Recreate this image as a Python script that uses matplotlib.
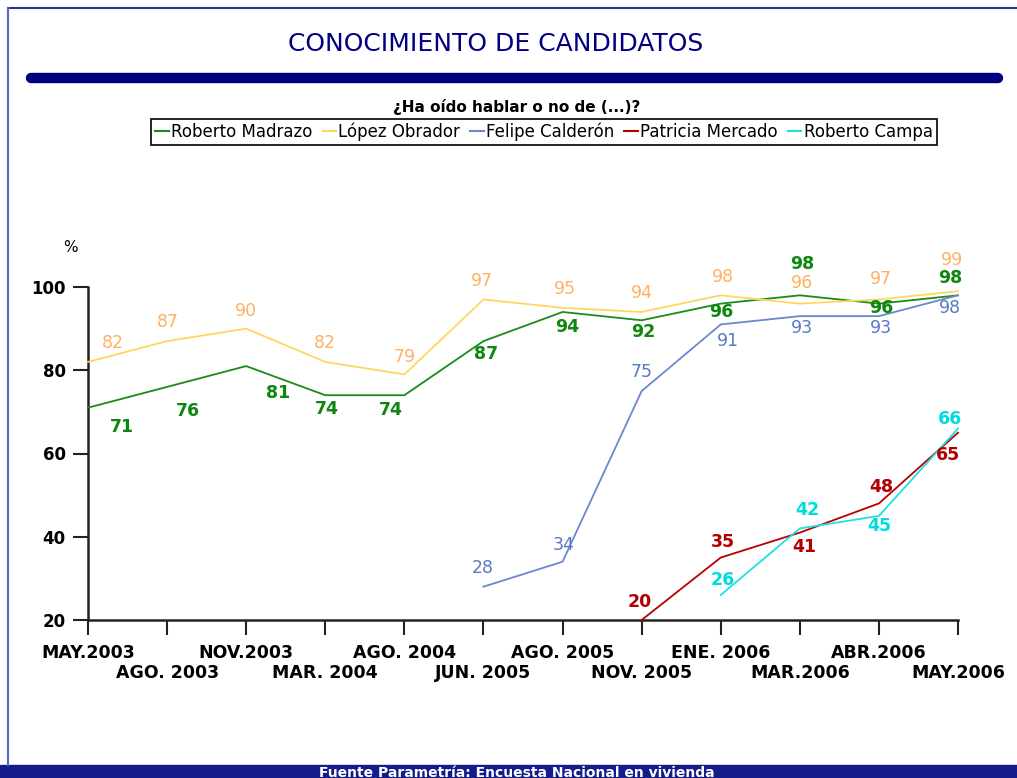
import matplotlib
matplotlib.use("Agg")
import matplotlib.pyplot as plt
from matplotlib.lines import Line2D
from matplotlib.patches import Rectangle

# survey dates
fechas = ["MAY.2003", "AGO. 2003", "NOV.2003", "MAR. 2004", "AGO. 2004", "JUN. 2005",
          "AGO. 2005", "NOV. 2005", "ENE. 2006", "MAR.2006", "ABR.2006", "MAY.2006"]

# % que ha oido hablar de cada candidato (None = no medido)
madrazo = [71, 76, 81, 74, 74, 87, 94, 92, 96, 98, 96, 98]
lopez_obrador = [82, 87, 90, 82, 79, 97, 95, 94, 98, 96, 97, 99]
calderon = [None, None, None, None, None, 28, 34, 75, 91, 93, 93, 98]
mercado = [None, None, None, None, None, None, None, 20, 35, 41, 48, 65]
campa = [None, None, None, None, None, None, None, None, 26, 42, 45, 66]

W, H = 1017, 778
fig = plt.figure(figsize=(W / 100, H / 100), dpi=100)
fig.patch.set_facecolor("white")


def fx(px):
    return px / W


def fy(py):
    return 1 - py / H


# frame, header bar and footer band
fig.add_artist(Line2D([fx(8), 1], [fy(8), fy(8)], color="#2a3590", lw=1.5))
fig.add_artist(Line2D([fx(8), fx(8)], [fy(8), fy(765)], color="#5a66c4", lw=1.5))
fig.add_artist(Line2D([fx(31), fx(998)], [fy(78), fy(78)], color="#000080",
                      lw=7.5, solid_capstyle="round"))
fig.add_artist(Rectangle((0, 0), 1, fy(765), transform=fig.transFigure,
                         color="#141c8c", zorder=0))

cond = ["Liberation Sans Narrow", "DejaVu Sans Condensed", "DejaVu Sans"]
fig.text(fx(496), fy(44), "CONOCIMIENTO DE CANDIDATOS", color="#000080",
         fontsize=18, family=cond, ha="center", va="center")
fig.text(fx(517), fy(107), "¿Ha oído hablar o no de (...)?", fontsize=11,
         fontweight="bold", ha="center", va="center")
fig.text(fx(517), fy(766), "Fuente Parametría: Encuesta Nacional en vivienda",
         color="white", fontsize=10, fontweight="bold", ha="center", va="top")

ax = fig.add_axes([fx(88), fy(620), fx(958) - fx(88), fy(287) - fy(620)])
x = list(range(len(fechas)))

series = [
    ("Roberto Madrazo", madrazo, "#1a8a1a", "#0f870f", "bold",
     [(34, 19), (21, 24), (32, 27), (2, 14), (-13, 15), (3, 13), (5, 15), (2, 12),
      (1, 8), (2, -31), (2, 4), (-8, -17)]),
    ("López Obrador", lopez_obrador, "#ffd75e", "#ffb060", "normal",
     [(25, -19), (1, -19), (0, -18), (0, -19), (0, -17), (-2, -18), (2, -19),
      (0, -19), (2, -18), (2, -21), (2, -20), (-6, -31)]),
    ("Felipe Calderón", calderon, "#6a88cc", "#5b78c4", "normal",
     [None] * 5 + [(-1, -19), (1, -17), (0, -19), (7, 17), (2, 12), (2, 12), (-8, 13)]),
    ("Patricia Mercado", mercado, "#b80000", "#b00000", "bold",
     [None] * 7 + [(-2, -18), (2, -16), (4, 14), (2, -16), (-10, 22)]),
    ("Roberto Campa", campa, "#22dede", "#00dcdc", "bold",
     [None] * 8 + [(2, -15), (7, -18), (0, 10), (-8, -10)]),
]

handles = []
for name, vals, lc, tc, fw, offs in series:
    xs = [i for i, v in zip(x, vals) if v is not None]
    ys = [v for v in vals if v is not None]
    ax.plot(xs, ys, color=lc, lw=1.3, clip_on=False, zorder=3)
    handles.append(Line2D([], [], color=lc, lw=1.5))
    for i, v in zip(xs, ys):
        dx, dy = offs[i]
        ax.annotate(str(v), (i, v), xytext=(dx, -dy), textcoords="offset pixels",
                    ha="center", va="center", color=tc, fontsize=12.5,
                    fontweight=fw, annotation_clip=False, zorder=4)

ax.set_xlim(0, len(fechas) - 1)
ax.set_ylim(20, 100)
ax.set_yticks([20, 40, 60, 80, 100])
# even dates on the first row (major ticks), odd dates on the second row (minor)
ax.set_xticks(x[0::2])
ax.set_xticklabels(fechas[0::2])
ax.set_xticks(x[1::2], minor=True)
ax.set_xticklabels(fechas[1::2], minor=True)
for s in ["top", "right"]:
    ax.spines[s].set_visible(False)
for s in ["left", "bottom"]:
    ax.spines[s].set_linewidth(1.8)
    ax.spines[s].set_color("#222222")
ax.tick_params(axis="both", which="both", direction="out", length=11, width=1.5,
               color="#222222")
ax.tick_params(axis="y", pad=5, labelsize=12)
ax.tick_params(axis="x", which="major", pad=6, labelsize=12.5)
ax.tick_params(axis="x", which="minor", pad=21, labelsize=12.5)
for lab in (ax.get_xticklabels() + ax.get_xticklabels(minor=True)
            + ax.get_yticklabels()):
    lab.set_fontweight("bold")
ax.patch.set_alpha(0)

fig.text(fx(70), fy(247), "%", fontsize=11, ha="center", va="center")

leg = fig.legend(handles, [s[0] for s in series], loc="center",
                 bbox_to_anchor=(fx(544), fy(132)), ncol=5, fontsize=12,
                 handlelength=0.8, handletextpad=0.15, columnspacing=0.6,
                 borderpad=0.25, borderaxespad=0, fancybox=False, framealpha=1)
leg.get_frame().set_edgecolor("black")
leg.get_frame().set_linewidth(1.2)

fig.savefig("out.png", dpi=100)
